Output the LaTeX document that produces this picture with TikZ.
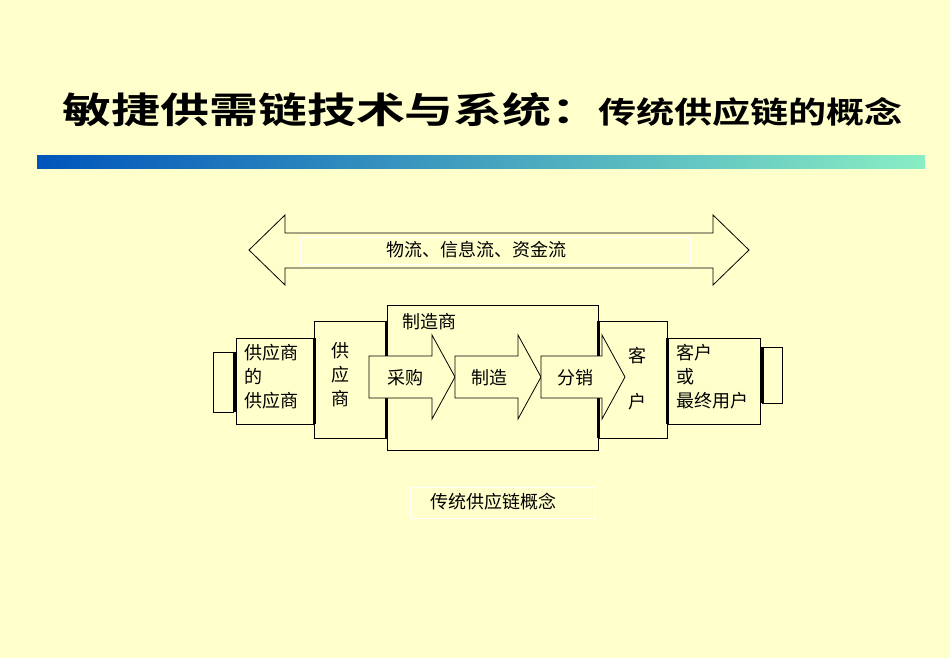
\documentclass[tikz,border=0pt]{standalone}
\usepackage{fontspec}
\setmainfont{Noto Sans CJK SC}
\newfontfamily\cjkb{Noto Sans CJK SC Bold}
\usetikzlibrary{calc}
\definecolor{bg}{HTML}{FFFFCC}
\definecolor{gA}{HTML}{0055BB}
\definecolor{gB}{HTML}{88EEC4}
\tikzset{box/.style={draw,line width=0.8pt,fill=bg},
 thick bar/.style={line width=3pt},
 txt/.style={font=\fontsize{18}{24}\selectfont,inner sep=0pt},
 blk/.style={draw,line width=0.8pt,fill=bg}}
\begin{document}
\begin{tikzpicture}[x=1pt,y=-1pt]
\fill[bg] (0,0) rectangle (950,658);
\useasboundingbox (0,0) rectangle (950,658);
\shade[left color=gA,right color=gB] (37,155) rectangle (925,168);
\node[anchor=base west,inner sep=0pt,font=\cjkb\fontsize{36}{36}\selectfont,xscale=1.36] (t1) at (62,124) {敏捷供需链技术与系统：};
\node[anchor=base west,inner sep=0pt,font=\cjkb\fontsize{30}{30}\selectfont,xscale=1.27] (t2) at (598,124) {传统供应链的概念};
% double arrow
\draw[line width=0.8pt,fill=bg] (249,250) -- (285,215) -- (285,233) -- (713,233) -- (713,215) -- (749,250) -- (713,285) -- (713,268) -- (285,268) -- (285,285) -- cycle;
\draw[white,line width=0.6pt] (300,237) rectangle (690,264);
\node[txt] (flow) at (476,250) {物流、信息流、资金流};
% boxes
\draw[box] (387,305) rectangle (598,450);
\draw[box] (213,352) rectangle (233,412);
\draw[box] (236,338) rectangle (314,424);
\draw[box] (314,321) rectangle (386,438);
\draw[box] (598,321) rectangle (667,438);
\draw[box] (667,338) rectangle (760,424);
\draw[box] (762,347) rectangle (782,403);
\draw[thick bar] (234,352) -- (234,412);
\draw[thick bar] (314,338) -- (314,424);
\draw[thick bar] (386,321) -- (386,438);
\draw[thick bar] (598,321) -- (598,438);
\draw[thick bar] (667,338) -- (667,424);
\draw[thick bar] (762,347) -- (762,403);
% block arrows
\draw[blk] (369,356) -- (432,356) -- (432,335) -- (455,377) -- (432,419) -- (432,398) -- (369,398) -- cycle;
\draw[blk] (455,356) -- (518,356) -- (518,335) -- (541,377) -- (518,419) -- (518,398) -- (455,398) -- cycle;
\draw[blk] (541,356) -- (602,356) -- (602,335) -- (625,377) -- (602,419) -- (602,398) -- (541,398) -- cycle;
\node[txt] (a1) at (405,378) {采购};
\node[txt] (a2) at (489,378) {制造};
\node[txt] (a3) at (575,378) {分销};
\node[txt] (mfr) at (429,322) {制造商};
\node[txt,align=left,anchor=north west] (s1) at (244,344) {供应商\\的\\供应商};
\node[txt,align=center,anchor=north] (s2) at (340,342) {供\\应\\商};
\node[txt] (c1) at (637,356) {客};
\node[txt] (c2) at (637,402) {户};
\node[txt,align=left,anchor=north west] (c3) at (676,344) {客户\\或\\最终用户};
\draw[white,line width=0.6pt] (410,487) rectangle (595,518);
\node[txt] (cap) at (493,502) {传统供应链概念};
\end{tikzpicture}
\end{document}
